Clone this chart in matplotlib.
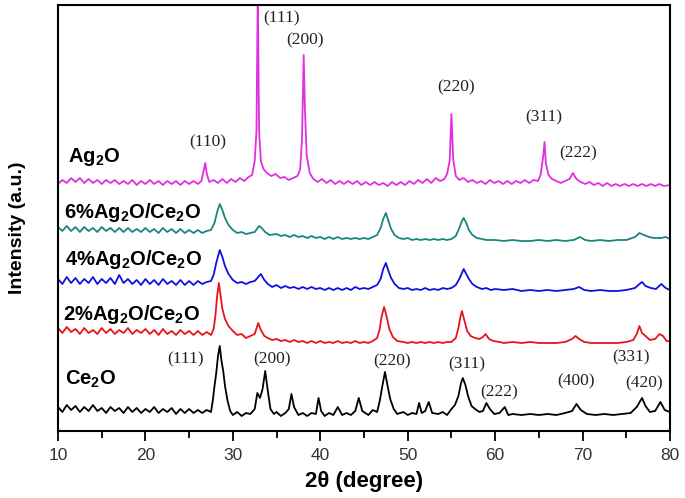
import matplotlib
matplotlib.use("Agg")
import matplotlib.pyplot as plt
from matplotlib.ticker import MultipleLocator

plt.rcParams['font.family'] = ['Liberation Sans', 'DejaVu Sans']
plt.rcParams['mathtext.fontset'] = 'custom'
plt.rcParams['mathtext.rm'] = 'Liberation Sans'
plt.rcParams['mathtext.bf'] = 'Liberation Sans:bold'

# (2theta, intensity a.u. incl. stacking offset)
ce2o = [(10,24),(10.5,19),(11,26),(11.5,21),(12,25),(12.5,19),(13,24),(13.5,20),(14,26),(14.5,20),
        (15,23),(15.5,18),(16,24),(16.5,20),(17,23),(17.5,18),(18,24),(18.5,19),(19,23),(19.5,18),
        (20,22),(20.5,19),(21,24),(21.5,18),(22,22),(22.5,19),(23,23),(23.5,17),(24,22),(24.5,18),
        (25,22),(25.5,18),(26,21),(26.5,18),(27,21),(27.5,19),(27.7,30),(27.9,45),(28.1,58),(28.3,75),
        (28.5,85),(28.7,70),(28.9,60),(29.1,45),(29.4,30),(29.7,20),(30,16),(30.5,19),(31,15),(31.5,18),
        (32,17),(32.5,22),(32.8,38),(33.1,33),(33.4,42),(33.7,60),(34.0,40),(34.3,22),(34.7,17),(35,19),
        (35.5,15),(36,18),(36.4,22),(36.7,37),(37.0,24),(37.5,16),(38,18),(38.5,15),(39,18),(39.5,17),
        (39.8,33),(40.1,20),(40.5,15),(41,18),(41.5,16),(42,24),(42.5,16),(43,18),(43.5,16),(44,20),
        (44.4,33),(44.8,20),(45.5,16),(46,21),(46.5,19),(46.8,30),(47.1,45),(47.4,59),(47.7,45),(48.0,32),
        (48.4,22),(48.8,17),(49.5,19),(50,16),(50.5,18),(51,17),(51.3,28),(51.6,18),(52,20),(52.4,29),
        (52.8,18),(53.5,17),(54,19),(54.5,16),(55,22),(55.4,26),(55.8,35),(56.1,48),(56.3,53),(56.6,46),
        (56.9,35),(57.3,25),(57.7,22),(58.2,19),(58.6,20),(59.0,28),(59.4,22),(59.9,17),(60.5,18),(61.1,24),
        (61.5,16),(62,17),(63,16),(64,17),(65,16),(66,17),(67,16),(68,18),(68.8,20),(69.3,27),
        (69.8,21),(70.5,17),(71.5,16),(72.5,17),(73.5,16),(74.5,17),(75.5,18),(76.2,24),(76.8,33),(77.2,25),
        (77.7,19),(78.3,20),(78.9,29),(79.4,21),(80,19)]

ag2_ce = [(10,103),(10.5,98),(11,104),(11.5,99),(12,102),(12.5,97),(13,103),(13.5,98),(14,101),(14.5,97),
          (15,103),(15.5,98),(16,102),(16.5,97),(17,101),(17.5,98),(18,103),(18.5,97),(19,101),(19.5,98),
          (20,102),(20.5,97),(21,101),(21.5,96),(22,102),(22.5,97),(23,100),(23.5,96),(24,101),(24.5,97),
          (25,100),(25.5,96),(26,100),(26.5,96),(27,99),(27.5,96),(27.8,102),(28.0,115),(28.2,135),(28.4,148),
          (28.6,135),(28.8,122),(29.1,112),(29.5,105),(30,100),(30.5,96),(31,97),(31.5,93),(32,95),(32.5,97),
          (32.9,108),(33.2,101),(33.6,95),(34,93),(34.5,91),(35,92),(35.5,90),(36,91),(36.5,89),(37,91),
          (37.5,89),(38,90),(38.5,88),(39,90),(39.5,88),(40,90),(40.5,88),(41,89),(41.5,88),(42,90),
          (42.5,88),(43,89),(43.5,88),(44,90),(44.5,88),(45,89),(45.5,88),(46,90),(46.5,93),(46.8,102),
          (47.0,114),(47.3,124),(47.6,114),(47.9,102),(48.3,94),(48.8,90),(49.5,89),(50,88),(50.5,89),(51,88),
          (51.5,89),(52,88),(52.5,89),(53,88),(53.5,89),(54,88),(54.5,89),(55,89),(55.5,93),(55.8,103),
          (56.0,113),(56.2,120),(56.5,110),(56.8,100),(57.2,95),(57.7,93),(58.2,92),(58.6,94),(58.9,97),(59.3,92),
          (59.8,90),(60.5,89),(61,88),(62,89),(63,88),(64,89),(65,88),(66,88),(67,88),(68,89),
          (68.8,92),(69.2,95),(69.6,92),(70.2,89),(71,88),(72,88),(73,88),(74,88),(75,89),(75.8,91),
          (76.2,97),(76.5,105),(76.8,98),(77.2,95),(77.7,91),(78.3,92),(78.8,97),(79.2,95),(79.6,90),(80,90)]

ag4_ce = [(10,152),(10.5,147),(11,154),(11.5,148),(12,153),(12.5,147),(13,152),(13.5,148),(14,154),(14.5,147),
          (15,152),(15.5,148),(16,153),(16.5,147),(17,156),(17.5,148),(18,152),(18.5,147),(19,151),(19.5,146),
          (20,152),(20.5,147),(21,151),(21.5,146),(22,152),(22.5,147),(23,150),(23.5,146),(24,151),(24.5,146),
          (25,150),(25.5,146),(26,150),(26.5,147),(27,149),(27.5,150),(27.8,156),(28.1,168),(28.5,181),(28.8,174),
          (29.1,165),(29.5,157),(30,151),(30.5,148),(31,149),(31.5,147),(32,149),(32.5,150),(32.9,154),(33.2,157),
          (33.6,151),(34,147),(34.5,144),(35,146),(35.5,143),(36,145),(36.5,143),(37,144),(37.5,142),(38,144),
          (38.5,142),(39,144),(39.5,142),(40,143),(40.5,141),(41,143),(41.5,141),(42,143),(42.5,141),(43,143),
          (43.5,141),(44,144),(44.5,142),(45,143),(45.5,142),(46,144),(46.5,146),(46.9,152),(47.2,162),(47.5,168),
          (47.8,160),(48.1,153),(48.5,147),(49,143),(49.5,142),(50,143),(50.5,141),(51,142),(51.5,141),(52,143),
          (52.5,141),(53,142),(53.5,141),(54,143),(54.5,142),(55,143),(55.5,146),(55.9,152),(56.2,158),(56.4,162),
          (56.7,157),(57.0,152),(57.4,147),(57.9,144),(58.5,142),(59,143),(59.5,141),(60,142),(61,141),(62,142),
          (63,140),(64,141),(65,140),(66,141),(67,140),(68,141),(69,142),(69.6,144),(70.2,141),(71,140),
          (72,141),(73,140),(74,140),(75,141),(76,143),(76.5,147),(76.8,149),(77.2,145),(77.8,143),(78.4,142),
          (79.0,147),(79.5,143),(80,141)]

ag6_ce = [(10,204),(10.5,200),(11,205),(11.5,200),(12,204),(12.5,199),(13,204),(13.5,200),(14,203),(14.5,199),
          (15,204),(15.5,200),(16,203),(16.5,199),(17,203),(17.5,199),(18,203),(18.5,199),(19,202),(19.5,199),
          (20,203),(20.5,199),(21,202),(21.5,198),(22,203),(22.5,199),(23,202),(23.5,198),(24,202),(24.5,198),
          (25,201),(25.5,198),(26,201),(26.5,198),(27,200),(27.5,201),(27.9,208),(28.2,219),(28.5,227),(28.8,221),
          (29.1,213),(29.5,206),(30,201),(30.5,198),(31,199),(31.5,197),(32,198),(32.5,199),(33.0,205),(33.3,203),
          (33.7,199),(34.2,196),(35,197),(35.5,195),(36,196),(36.5,194),(37,196),(37.5,194),(38,195),(38.5,193),
          (39,195),(39.5,193),(40,194),(40.5,192),(41,194),(41.5,192),(42,194),(42.5,192),(43,193),(43.5,192),
          (44,193),(44.5,192),(45,193),(45.5,192),(46,194),(46.5,196),(46.9,203),(47.2,212),(47.5,218),(47.8,210),
          (48.1,202),(48.5,196),(49,193),(49.5,192),(50,193),(50.5,191),(51,192),(51.5,191),(52,192),(52.5,191),
          (53,192),(53.5,191),(54,192),(54.5,191),(55,192),(55.5,195),(55.9,203),(56.2,210),(56.4,213),(56.7,208),
          (57.0,201),(57.4,196),(57.9,193),(58.5,192),(59,191),(60,191),(61,190),(62,191),(63,190),(64,190),
          (65,191),(66,190),(67,191),(68,190),(69,191),(69.7,194),(70.3,191),(71,190),(72,191),(73,190),
          (74,191),(75,191),(76,194),(76.5,198),(77.0,196),(77.6,194),(78.2,193),(79,193),(79.5,194),(80,192)]

ag2o = [(10,247),(10.5,251),(11,248),(11.5,253),(12,249),(12.5,253),(13,248),(13.5,252),(14,248),(14.5,251),
        (15,247),(15.5,251),(16,248),(16.5,251),(17,247),(17.5,250),(18,247),(18.5,251),(19,246),(19.5,250),
        (20,247),(20.5,251),(21,247),(21.5,250),(22,246),(22.5,250),(23,247),(23.5,250),(24,246),(24.5,250),
        (25,247),(25.5,250),(26,247),(26.4,250),(26.7,262),(26.85,268),(27.0,258),(27.3,249),(27.8,251),(28.3,248),
        (28.8,252),(29.3,248),(29.8,252),(30.3,249),(30.8,253),(31.3,250),(31.8,254),(32.2,256),(32.5,270),(32.7,300),
        (32.85,440),(33.0,300),(33.2,270),(33.5,262),(33.9,258),(34.4,255),(34.9,257),(35.4,253),(35.9,254),(36.4,251),
        (36.9,253),(37.4,255),(37.7,262),(37.9,290),(38.0,330),(38.1,376),(38.25,320),(38.45,275),(38.8,258),(39.2,252),
        (39.7,249),(40.2,252),(40.7,248),(41.2,251),(41.7,247),(42.2,250),(42.7,247),(43.2,250),(43.7,247),(44.2,250),
        (44.7,246),(45.2,249),(45.7,246),(46.2,249),(46.7,246),(47.2,248),(47.7,245),(48.2,249),(48.7,246),(49.2,249),
        (49.7,246),(50.2,250),(50.7,247),(51.2,251),(51.7,248),(52.2,252),(52.7,248),(53.2,253),(53.7,250),(54.2,252),
        (54.5,257),(54.8,270),(55.0,317),(55.2,272),(55.5,255),(55.9,251),(56.4,253),(56.9,249),(57.4,251),(57.9,248),
        (58.4,250),(58.9,247),(59.4,251),(59.9,248),(60.4,250),(60.9,247),(61.4,250),(61.9,247),(62.4,250),(62.9,248),
        (63.4,251),(63.9,248),(64.4,251),(64.9,250),(65.2,256),(65.5,275),(65.65,289),(65.8,268),(66.1,256),(66.5,252),
        (67,250),(67.5,248),(68,250),(68.5,252),(68.9,258),(69.3,252),(69.8,249),(70.3,247),(70.8,249),(71.3,246),
        (71.8,248),(72.3,245),(72.8,248),(73.3,245),(73.8,247),(74.3,245),(74.8,247),(75.3,245),(75.8,247),(76.3,245),
        (76.8,247),(77.3,245),(77.8,247),(78.3,245),(78.8,247),(79.3,245),(80,246)]

series = [ce2o, ag2_ce, ag4_ce, ag6_ce, ag2o]
colors = ['black', '#e8141c', '#1010e0', '#17877d', '#e02ee0']
names = ['Ce$_\\mathbf{2}$O', '2%Ag$_\\mathbf{2}$O/Ce$_\\mathbf{2}$O', '4%Ag$_\\mathbf{2}$O/Ce$_\\mathbf{2}$O',
         '6%Ag$_\\mathbf{2}$O/Ce$_\\mathbf{2}$O', 'Ag$_\\mathbf{2}$O']
name_pos = [(10.75, 46), (10.6, 111), (10.75, 166), (10.65, 213), (11.1, 269)]

# hkl labels: (text, 2theta, height)
ag2o_hkl = [('(111)', 35.6, 413), ('(200)', 38.3, 391), ('(110)', 27.1, 289),
            ('(220)', 55.5, 344), ('(311)', 65.6, 314), ('(222)', 69.5, 278)]
ce2o_hkl = [('(111)', 24.6, 72), ('(200)', 34.5, 72), ('(220)', 48.2, 70), ('(311)', 56.8, 67),
            ('(222)', 60.5, 39), ('(400)', 69.2, 50), ('(331)', 75.5, 74), ('(420)', 77.0, 48)]

fig = plt.figure(figsize=(6.85, 4.98), dpi=100)
ax = fig.add_axes([58/685, 1-431/498, (670-58)/685, (431-5)/498])

for pts, c in zip(series, colors):
    xs = [p[0] for p in pts]
    ys = [p[1] for p in pts]
    ax.plot(xs, ys, '-', color=c, lw=1.3)

for name, (x, y) in zip(names, name_pos):
    ax.text(x, y, name, fontsize=14.5, fontweight='bold', va='baseline', ha='left')

for lab, x, y in ag2o_hkl + ce2o_hkl:
    ax.text(x, y, lab, fontsize=12.5, family='Liberation Serif', color='#222222', ha='center', va='center')

ax.set_xlim(10, 80)
ax.set_ylim(0, 426)
ax.set_yticks([])
ax.xaxis.set_major_locator(MultipleLocator(10))
ax.xaxis.set_minor_locator(MultipleLocator(5))
ax.tick_params(axis='x', which='major', direction='out', length=7, width=1.3, labelsize=12.5, labelcolor='#333333', pad=5)
ax.tick_params(axis='x', which='minor', direction='out', length=5, width=1.3)
for s in ax.spines.values():
    s.set_linewidth(1.5)

ax.set_xlabel('2θ (degree)', fontsize=16, fontweight='bold', labelpad=6)
ax.set_ylabel('Intensity (a.u.)', fontsize=14, fontweight='bold')
ax.yaxis.set_label_coords(-0.052, 0.477)

fig.savefig('out.png', dpi=100)
